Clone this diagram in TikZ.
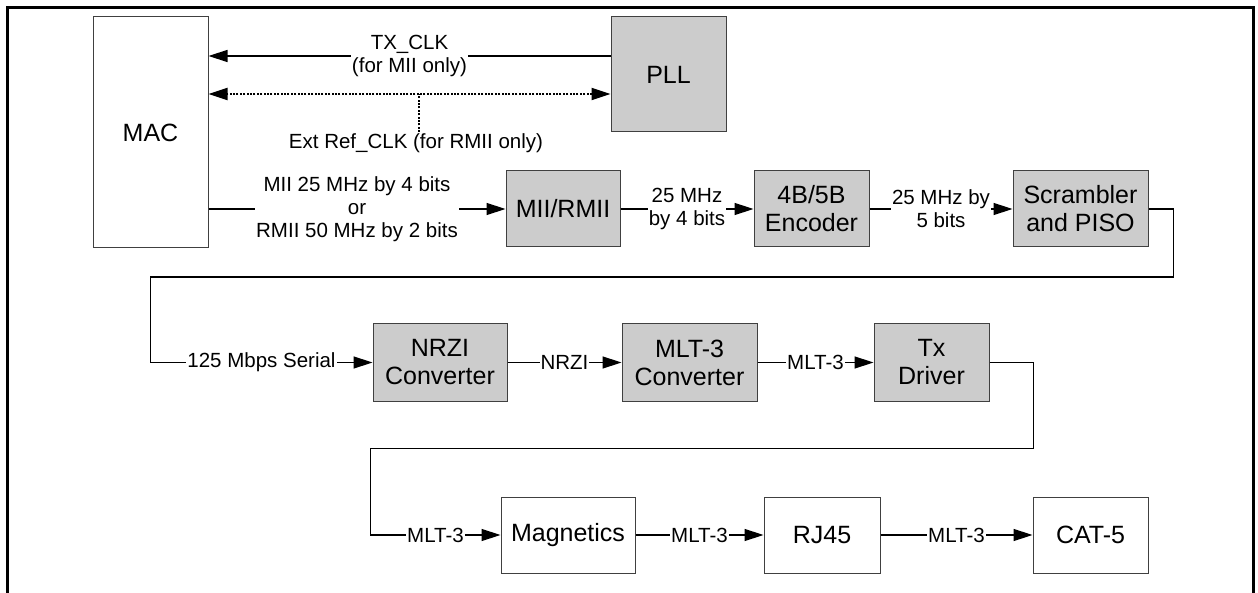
\documentclass[tikz,border=0pt]{standalone}
\usepackage{fontspec}
\setmainfont{Liberation Sans}
\usepackage{tikz}
\usetikzlibrary{positioning, arrows.meta}
\tikzset{x=1pt, y=-1pt, % One unit is one pixel of the drawing
>={Triangle[length=19pt,width=12pt]},
blk/.style={ % Plain white blocks
draw=black!75, line width=1pt,
fill=white, align=center, inner sep=0pt,
font=\fontsize{25}{28}\selectfont},
gblk/.style={blk, fill=gray!40}, % Shaded blocks
lbl/.style={ % Text sitting on a wire
fill=white, inner sep=1pt, align=center,
font=\fontsize{20.5}{23}\selectfont},
wire/.style={draw, line width=1.4pt},
dotwire/.style={wire, line width=2.2pt, dash pattern=on 2pt off 1.4pt}}

\begin{document}
\begin{tikzpicture}
    \useasboundingbox (0,0) rectangle (1258,593);
    \draw[line width=3pt] (7,593) -- (7,8) -- (1253,8) -- (1253,593);

    % MAC and clock
    \node[blk, minimum width=115pt, minimum height=231pt] (mac) at (150.5,132.5) {MAC};
    \node[gblk, minimum width=115pt, minimum height=115pt] (pll) at (668.5,74.5) {PLL};
    \node[lbl, fill=none] (extclk) at (416,143) {Ext Ref\_CLK (for RMII only)};

    % first row
    \node[gblk, minimum width=114pt, minimum height=76pt] (mii) at (563,209) {MII/RMII};
    \node[gblk, minimum width=115pt, minimum height=76pt] (enc) at (811.5,209) {4B/5B\\Encoder};
    \node[gblk, minimum width=135pt, minimum height=76pt] (scr) at (1080.5,209) {Scrambler\\and PISO};

    % second row
    \node[gblk, minimum width=134pt, minimum height=77pt] (nrzi) at (440,362.5) {NRZI\\Converter};
    \node[gblk, minimum width=135pt, minimum height=77pt] (mlt) at (689.5,362.5) {MLT-3\\Converter};
    \node[gblk, minimum width=115pt, minimum height=77pt] (tx) at (931.5,362.5) {Tx\\Driver};

    % third row
    \node[blk, minimum width=134pt, minimum height=76pt] (mag) at (568,535) {Magnetics};
    \node[blk, minimum width=116pt, minimum height=76pt] (rj) at (822,535) {RJ45};
    \node[blk, minimum width=115pt, minimum height=76pt] (cat) at (1090.5,535) {CAT-5};

    % clock wires
    \draw[wire, ->] ([yshift=18.5pt]pll.west) -- node[lbl] {TX\_CLK\\(for MII only)} ([yshift=18.5pt]mac.east |- pll.west);
    \coordinate (refclk) at ([yshift=-19.5pt]pll.west);
    \draw[dotwire, <->] (refclk) -- (refclk -| mac.east);
    \draw[dotwire] ([xshift=3pt]extclk.north) -- ([xshift=3pt]extclk.north |- refclk);

    % data path
    \draw[wire, ->] (mac.east |- mii) -- node[lbl] {MII 25 MHz by 4 bits\\or\\RMII 50 MHz by 2 bits} (mii.west);
    \draw[wire, ->] (mii) -- node[lbl] {25 MHz\\by 4 bits} (enc);
    \draw[wire, ->] (enc) -- node[lbl] {25 MHz by\\5 bits} (scr);
    \draw[wire, ->] (scr.east) -- ++(25,0) -- ++(0,68) -- ++(-1023,0) |- node[lbl, pos=0.75] {125 Mbps Serial} (nrzi.west);
    \draw[wire, ->] (nrzi) -- node[lbl] {NRZI} (mlt);
    \draw[wire, ->] (mlt) -- node[lbl] {MLT-3} (tx);
    \draw[wire, ->] (tx.east) -- ++(44,0) -- ++(0,86) -- ++(-663,0) |- node[lbl, pos=0.75] {MLT-3} (mag.west);
    \draw[wire, ->] (mag) -- node[lbl] {MLT-3} (rj);
    \draw[wire, ->] (rj) -- node[lbl] {MLT-3} (cat);
\end{tikzpicture}
\end{document}
